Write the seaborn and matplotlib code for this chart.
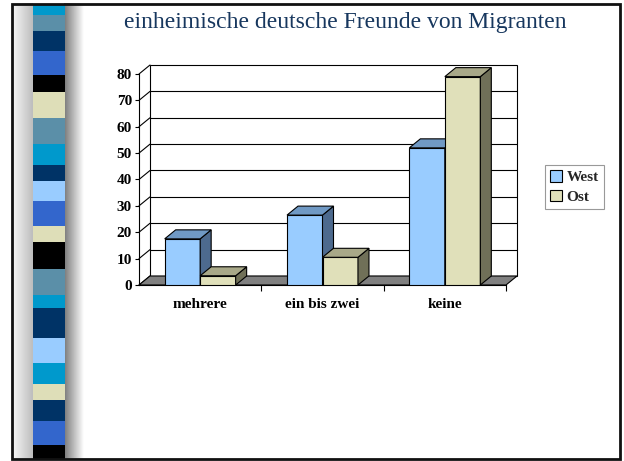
import numpy as np
import pandas as pd
import seaborn as sns
import matplotlib.pyplot as plt
from matplotlib.patches import Polygon, Rectangle
from matplotlib.colors import LinearSegmentedColormap

# Werte
categories = ['mehrere', 'ein bis zwei', 'keine']
series = ['West', 'Ost']
west = [17.5, 26.5, 52]
ost = [3.5, 10.5, 79]
y_ticks = [0, 10, 20, 30, 40, 50, 60, 70, 80]
title = 'einheimische deutsche Freunde von Migranten'

df = pd.DataFrame({
    'Kategorie': categories * 2,
    'Wert': west + ost,
    'Region': ['West'] * len(west) + ['Ost'] * len(ost),
})

front = {'West': '#99CCFF', 'Ost': '#E0E0BA'}
top = {'West': '#7099C4', 'Ost': '#A8A888'}
side = {'West': '#4D6A8E', 'Ost': '#707058'}

# Streifen links (Farbe, unteres Ende in px)
stripes = [('#0099CC', 15), ('#5B8FA8', 31), ('#003366', 51), ('#3366CC', 75),
           ('#000000', 92), ('#DEDEB8', 118), ('#5B8FA8', 144), ('#0099CC', 165),
           ('#003366', 181), ('#99CCFF', 201), ('#3366CC', 226), ('#DEDEB8', 242),
           ('#000000', 269), ('#5B8FA8', 295), ('#0099CC', 308), ('#003366', 338),
           ('#99CCFF', 363), ('#0099CC', 384), ('#DEDEB8', 400), ('#003366', 421),
           ('#3366CC', 445), ('#000000', 459)]

sns.set_theme(style='white')
plt.rcParams['font.family'] = ['Liberation Serif', 'DejaVu Serif']

W, H = 624, 461
fig = plt.figure(figsize=(W / 100, H / 100), dpi=100)

# Folienhintergrund
bg = fig.add_axes([0, 0, 1, 1])
bg.set_xlim(0, W)
bg.set_ylim(H, 0)
bg.axis('off')
grad = np.linspace(0, 1, 64).reshape(1, -1)
bg.imshow(grad, extent=(12, 33, 459, 4), aspect='auto',
          cmap=LinearSegmentedColormap.from_list('l', ['#f8f8f8', '#bdbdbd']))
bg.imshow(grad, extent=(64, 84, 459, 4), aspect='auto',
          cmap=LinearSegmentedColormap.from_list('r', ['#7a7a7a', '#ffffff']))
y0 = 4
for col, y1 in stripes:
    bg.add_patch(Rectangle((33, y0), 32, y1 - y0, fc=col, ec='none'))
    y0 = y1
bg.add_patch(Rectangle((11.5, 4), 608.5, 455, fill=False, ec='#111111', lw=2))
bg.set_xlim(0, W)
bg.set_ylim(H, 0)

fig.text(124 / W, 1 - 28 / H, title, ha='left', va='baseline',
         fontsize=17, color='#17375E')

# Diagramm (vordere Ebene)
ax = fig.add_axes([139 / W, (H - 285) / H, 367 / W, 211 / H])
ax.patch.set_visible(False)
sns.barplot(data=df, x='Kategorie', y='Wert', hue='Region', hue_order=series,
            palette=front, saturation=1, width=0.58, gap=0,
            edgecolor='black', linewidth=0.8, ax=ax)
ax.get_legend().remove()
ax.set_xlim(-0.5, 2.5)
ax.set_ylim(0, 80)
ax.set_xlabel('')
ax.set_ylabel('')

# Tiefe in Dateneinheiten
dx = 11 * 3 / 367
dy = 9 * 80 / 211

# Wände und Boden
ax.add_patch(Rectangle((-0.5 + dx, dy), 3, 80, fc='white', ec='black',
                       lw=0.8, zorder=0.5, clip_on=False))
for v in y_ticks:
    if 0 < v < 80:
        ax.plot([-0.5 + dx, 2.5 + dx], [v + dy, v + dy], color='black',
                lw=0.8, zorder=0.6, clip_on=False)
    ax.plot([-0.5, -0.5 + dx], [v, v + dy], color='black', lw=0.8,
            zorder=0.6, clip_on=False)
ax.add_patch(Polygon([(-0.5, 0), (2.5, 0), (2.5 + dx, dy), (-0.5 + dx, dy)],
                     closed=True, fc='#808080', ec='black', lw=0.8,
                     zorder=1, clip_on=False))

# 3D-Seiten der Säulen
bars = []
for cont, name in zip(ax.containers, series):
    for bar in cont:
        bars.append((bar.get_x(), bar, name))
bars.sort(key=lambda t: t[0])
for i, (x0, bar, name) in enumerate(bars):
    z = 2 + i
    w = bar.get_width()
    h = bar.get_height()
    bar.set_zorder(z)
    ax.add_patch(Polygon([(x0 + w, 0), (x0 + w + dx, dy), (x0 + w + dx, h + dy), (x0 + w, h)],
                         closed=True, fc=side[name], ec='black', lw=0.8,
                         zorder=z, clip_on=False))
    ax.add_patch(Polygon([(x0, h), (x0 + w, h), (x0 + w + dx, h + dy), (x0 + dx, h + dy)],
                         closed=True, fc=top[name], ec='black', lw=0.8,
                         zorder=z, clip_on=False))

for s in ['top', 'right']:
    ax.spines[s].set_visible(False)
for s in ['left', 'bottom']:
    ax.spines[s].set_color('black')
    ax.spines[s].set_linewidth(0.8)
    ax.spines[s].set_zorder(1.5)

ax.set_yticks(y_ticks)
ax.set_yticklabels([str(v) for v in y_ticks], fontweight='bold', fontsize=11, color='black')
ax.tick_params(axis='y', left=True, direction='out', length=3, width=0.8,
               color='black', pad=2)
ax.set_xticks(range(len(categories)))
ax.set_xticklabels(categories, fontweight='bold', fontsize=11, color='black')
ax.set_xticks([0.5, 1.5, 2.5], minor=True)
ax.tick_params(axis='x', which='major', length=0, pad=9)
ax.tick_params(axis='x', which='minor', bottom=True, direction='out',
               length=4, width=0.8, color='black')

handles = [Rectangle((0, 0), 1, 1, fc=front[n], ec='black', lw=0.8) for n in series]
leg = fig.legend(handles, series, loc='upper left',
                 bbox_to_anchor=(545 / W, 1 - 165 / H), frameon=True,
                 fancybox=False, edgecolor='#808080', borderaxespad=0,
                 prop={'weight': 'bold', 'size': 11}, handlelength=0.75,
                 handleheight=0.75, handletextpad=0.3, borderpad=0.35,
                 labelspacing=0.35)
leg.get_frame().set_linewidth(0.8)

fig.savefig('out.png', dpi=100)
